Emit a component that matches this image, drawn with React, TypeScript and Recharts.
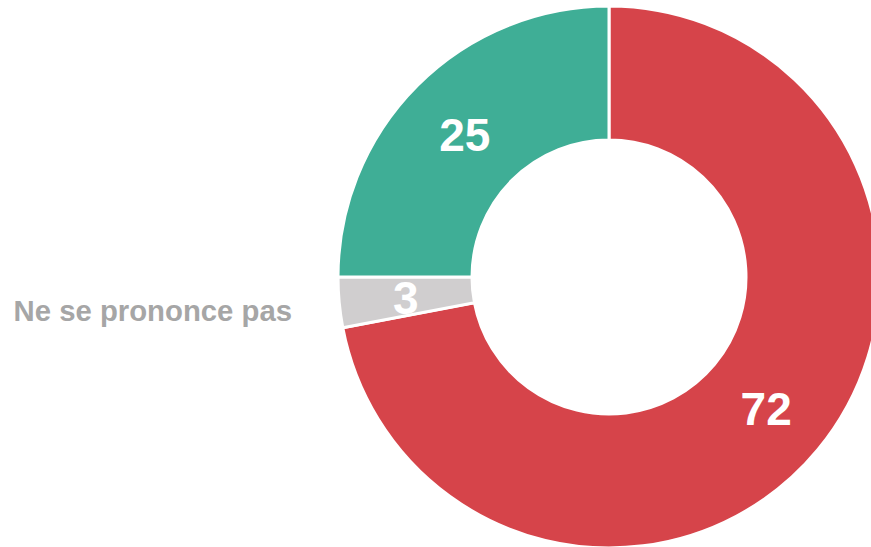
import { PieChart, Pie, Cell } from 'recharts'

const categories = ['Non', 'Ne se prononce pas', 'Oui']
const values = [72, 3, 25]
const COLORS = ['#D6444A', '#D0CECF', '#3FAE96']

const data = categories.map((name, i) => ({ name, value: values[i] }))

const RADIAN = Math.PI / 180

// numbers inside the ring, plus the side label for the small grey slice
const renderLabel = (props: any) => {
  const { cx, cy, midAngle, innerRadius, outerRadius, value, index, name } =
    props
  const r = (innerRadius + outerRadius) / 2
  const x = cx + r * Math.cos(-midAngle * RADIAN)
  const y = cy + r * Math.sin(-midAngle * RADIAN)
  return (
    <g>
      <text
        x={x}
        y={y + 2}
        fill='#ffffff'
        textAnchor='middle'
        dominantBaseline='central'
        fontSize={46}
        fontWeight='bold'
        fontFamily='"Liberation Sans", Arial, sans-serif'
      >
        {value}
      </text>
      {index === 1 && (
        <text
          x={cx - outerRadius - 46}
          y={cy + 33}
          fill='#A6A6A6'
          textAnchor='end'
          dominantBaseline='central'
          fontSize={29.3}
          fontWeight='bold'
          fontFamily='"Liberation Sans", Arial, sans-serif'
        >
          {name}
        </text>
      )}
    </g>
  )
}

export default function App() {
  return (
    <div
      style={{
        position: 'absolute',
        left: 0,
        top: 0,
        width: 871,
        height: 547,
        overflow: 'hidden',
        background: '#ffffff',
      }}
    >
      <PieChart
        width={871}
        height={547}
        margin={{ top: 0, right: 0, bottom: 0, left: 0 }}
      >
        <Pie
          data={data}
          dataKey='value'
          nameKey='name'
          cx={609}
          cy={277}
          innerRadius={137}
          outerRadius={271}
          startAngle={90}
          endAngle={-270}
          stroke='#ffffff'
          strokeWidth={3}
          label={renderLabel}
          labelLine={false}
          isAnimationActive={false}
        >
          {data.map((entry, index) => (
            <Cell key={`cell-${index}`} fill={COLORS[index]} />
          ))}
        </Pie>
      </PieChart>
    </div>
  )
}
